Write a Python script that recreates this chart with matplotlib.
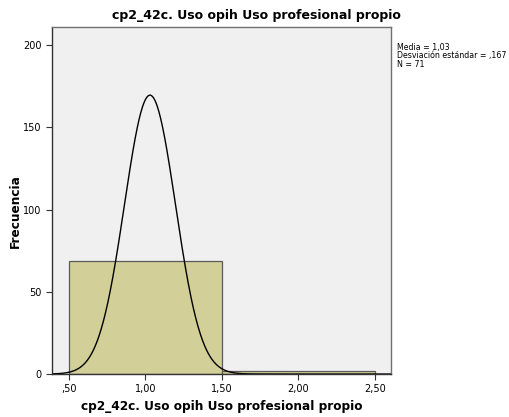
import numpy as np
import matplotlib
matplotlib.use("Agg")
import matplotlib.pyplot as plt

# histogram data
bin_edges = [0.5, 1.5, 2.5]
counts = [69, 2]
media = 1.03
desv = 0.167
n = 71
x_ticks = [0.5, 1.0, 1.5, 2.0, 2.5]
x_tick_labels = [",50", "1,00", "1,50", "2,00", "2,50"]
y_ticks = [0, 50, 100, 150, 200]

titulo = "cp2_42c. Uso opih Uso profesional propio"

fig = plt.figure(figsize=(5.09, 4.17), dpi=100)
ax = fig.add_axes([0.102, 0.103, 0.666, 0.832])
ax.set_facecolor("#F0F0F0")

widths = np.diff(bin_edges)
ax.bar(bin_edges[:-1], counts, width=widths, align="edge",
       color="#D3CF98", edgecolor="#5a5a5a", linewidth=0.9)

# normal curve scaled to the histogram
xs = np.linspace(0.389, 2.605, 600)
ys = n * widths[0] / (desv * np.sqrt(2 * np.pi)) * np.exp(-0.5 * ((xs - media) / desv) ** 2)
ax.plot(xs, ys, color="black", linewidth=1)

ax.set_xlim(0.389, 2.605)
ax.set_ylim(0, 211)
ax.set_xticks(x_ticks)
ax.set_xticklabels(x_tick_labels)
ax.set_yticks(y_ticks)
ax.tick_params(direction="out", length=4, labelsize=7, color="#333333")
for s in ax.spines.values():
    s.set_color("#707070")
    s.set_linewidth(1)
ax.spines["left"].set_color("#333333")
ax.spines["bottom"].set_color("#333333")

fig.text(0.503, 0.962, titulo, fontsize=9, fontweight="bold", ha="center", va="center")
ax.set_xlabel(titulo, fontsize=8.7, fontweight="bold", labelpad=4)
ax.set_ylabel("Frecuencia", fontsize=8.7, fontweight="bold")
ax.yaxis.set_label_coords(-0.09, 0.47)

fig.text(0.779, 0.898,
         "Media = 1,03\nDesviación estándar = ,167\nN = 71",
         fontsize=5.7, va="top", ha="left", linespacing=0.95)

fig.savefig("out.png", dpi=100)
